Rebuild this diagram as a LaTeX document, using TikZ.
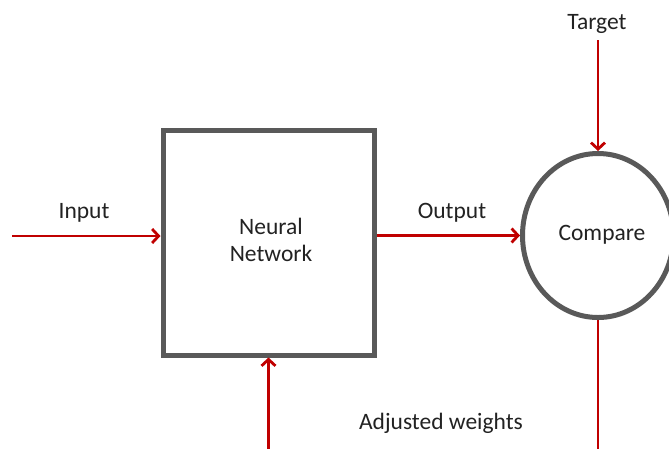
\documentclass[tikz,border=0pt]{standalone}
\usepackage{fontspec}
\setmainfont{Carlito}
\usetikzlibrary{arrows.meta,shapes.geometric}
\definecolor{boxgray}{HTML}{595959}
\definecolor{flowred}{HTML}{C00000}
\definecolor{inktext}{HTML}{222222}
\begin{document}
\begin{tikzpicture}[x=1pt,y=-1pt,
  unit/.style={draw=boxgray,line width=5pt,fill=white,inner sep=0pt},
  flow/.style={draw=flowred,line width=2.8pt,
    -{Straight Barb[length=6.5pt,width=14pt,line width=2.8pt]}},
  plain/.style={draw=flowred,line width=2.8pt},
  lbl/.style={text=inktext,font=\fontsize{23.5}{27}\selectfont,
    align=center,inner sep=0pt}]
  \useasboundingbox (0,0) rectangle (669,448);
  \clip (0,0) rectangle (669,448);

  % main blocks
  \node[unit,rectangle,minimum width=211pt,minimum height=225pt]
    (net) at (268.5,242.5) {};
  \node[unit,ellipse,minimum width=151pt,minimum height=164pt]
    (cmp) at (598,235.5) {};
  \node[lbl] (netlbl) at (271,240) {Neural\\Network};
  \node[lbl] (cmplbl) at (602,235) {Compare};

  % free ends and corners of the connectors (the return leg runs along the lower edge)
  \coordinate (in) at (12,236);
  \coordinate (tgt) at (598,40);
  \coordinate (br) at (598,453);
  \coordinate (bl) at (268.5,453);

  % connectors
  \draw[flow] (in) -- (net.west |- in);
  \draw[flow] (net.east |- cmp.west) -- (cmp.west);
  \draw[flow] (tgt) -- (cmp.north);
  \draw[plain] (cmp.south) -- (br) -- (bl);
  \draw[flow] (bl) -- (net.south);

  % labels
  \node[lbl] (lin) at (84,213) {Input};
  \node[lbl] (lout) at (452,213) {Output};
  \node[lbl] (ltgt) at (597,24) {Target};
  \node[lbl] (ladj) at (441,423) {Adjusted weights};
\end{tikzpicture}
\end{document}
